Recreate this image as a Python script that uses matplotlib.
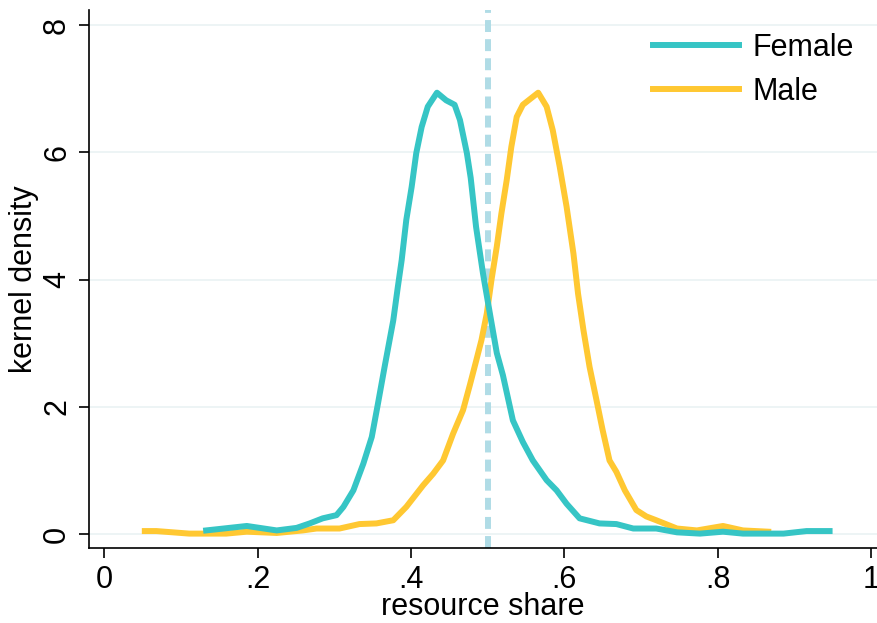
import matplotlib
matplotlib.use("Agg")
import matplotlib.pyplot as plt

# values
female_x = [0.133, 0.186, 0.225, 0.251, 0.268, 0.285, 0.303, 0.312, 0.325, 0.338, 0.349,
            0.357, 0.366, 0.377, 0.383, 0.388, 0.394, 0.401, 0.407, 0.414, 0.422, 0.434,
            0.446, 0.457, 0.464, 0.473, 0.478, 0.485, 0.494, 0.503, 0.512, 0.520, 0.533,
            0.546, 0.559, 0.577, 0.590, 0.603, 0.620, 0.646, 0.668, 0.690, 0.720, 0.747,
            0.777, 0.807, 0.833, 0.864, 0.886, 0.916, 0.946]
female_y = [0.06, 0.13, 0.06, 0.10, 0.17, 0.25, 0.30, 0.43, 0.69, 1.11, 1.53,
            2.05, 2.65, 3.36, 3.89, 4.31, 4.94, 5.46, 5.99, 6.40, 6.72, 6.94,
            6.82, 6.75, 6.51, 5.99, 5.60, 4.83, 4.10, 3.47, 2.85, 2.50, 1.79,
            1.45, 1.16, 0.85, 0.69, 0.48, 0.25, 0.17, 0.16, 0.09, 0.09, 0.03,
            0.01, 0.04, 0.01, 0.01, 0.01, 0.05, 0.05]

male_x = [0.053, 0.068, 0.111, 0.159, 0.186, 0.225, 0.259, 0.277, 0.307, 0.333, 0.355,
          0.377, 0.394, 0.416, 0.429, 0.442, 0.455, 0.468, 0.477, 0.485, 0.492, 0.499,
          0.505, 0.512, 0.518, 0.525, 0.531, 0.538, 0.546, 0.566, 0.577, 0.585, 0.594,
          0.603, 0.612, 0.618, 0.625, 0.633, 0.642, 0.650, 0.659, 0.668, 0.679, 0.694,
          0.707, 0.720, 0.747, 0.773, 0.807, 0.833, 0.866]
male_y = [0.05, 0.05, 0.01, 0.01, 0.04, 0.02, 0.06, 0.09, 0.09, 0.16, 0.17,
          0.22, 0.43, 0.77, 0.95, 1.16, 1.58, 1.95, 2.35, 2.72, 3.05, 3.47,
          3.99, 4.52, 5.04, 5.57, 6.09, 6.56, 6.75, 6.94, 6.72, 6.35, 5.78,
          5.15, 4.41, 3.78, 3.21, 2.63, 2.11, 1.64, 1.16, 0.98, 0.69, 0.38,
          0.28, 0.22, 0.09, 0.06, 0.13, 0.06, 0.04]

cutoff = 0.5
xticks = [0, 0.2, 0.4, 0.6, 0.8, 1]
xlabels = ["0", ".2", ".4", ".6", ".8", "1"]
yticks = [0, 2, 4, 6, 8]

plt.rcParams['font.family'] = ['Liberation Sans', 'DejaVu Sans']

fig = plt.figure(figsize=(8.78, 6.23), dpi=100)
ax = fig.add_axes([0.101, 0.120, 0.898, 0.864])

ax.axvline(cutoff, color="#b0dce6", lw=4.3, dashes=(2.0, 1.2), zorder=1)
ax.plot(female_x, female_y, color="#36c5c5", lw=4.3, label="Female", zorder=3,
        solid_joinstyle="round")
ax.plot(male_x, male_y, color="#ffc832", lw=4.3, label="Male", zorder=2,
        solid_joinstyle="round")

ax.set_xlim(-0.0202, 1.008)
ax.set_ylim(-0.22, 8.24)
ax.set_xticks(xticks)
ax.set_xticklabels(xlabels)
ax.set_yticks(yticks)
ax.set_yticklabels([str(v) for v in yticks], rotation=90, va="center")
ax.tick_params(labelsize=22, length=7, width=1.2, direction="out", pad=5)
ax.grid(axis="y", color="#eaf2f3", lw=1.2)
ax.set_axisbelow(True)

for s in ["top", "right"]:
    ax.spines[s].set_visible(False)
for s in ["left", "bottom"]:
    ax.spines[s].set_linewidth(1.2)

ax.set_xlabel("resource share", fontsize=22, labelpad=-2)
ax.set_ylabel("kernel density", fontsize=22, labelpad=2)

ax.legend(loc="upper left", bbox_to_anchor=(653 / 878, 1 - 33 / 623),
          bbox_transform=fig.transFigure, frameon=False, fontsize=22,
          handlelength=2.8, handletextpad=0.46, borderpad=0, borderaxespad=0,
          labelspacing=0.45)

fig.savefig("out.png", dpi=100)
